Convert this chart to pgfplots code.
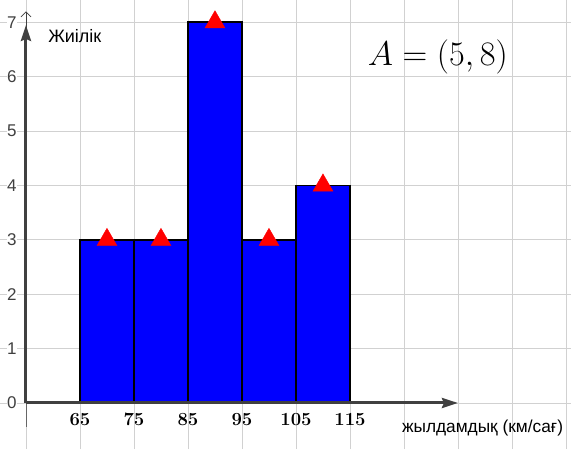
\documentclass[border=0pt]{standalone}
\usepackage{graphicx}
\usepackage{pgfplots}
\pgfplotsset{compat=1.18}
\usepackage{fontspec}
\setmainfont{Liberation Sans}
\newfontfamily\lmr{Latin Modern Roman}
\usetikzlibrary{arrows.meta}
\definecolor{barblue}{RGB}{0,0,255}
\definecolor{axgray}{RGB}{64,64,64}
\begin{document}
\begin{tikzpicture}
\begin{axis}[
  scale only axis, width=571pt, height=449pt,
  xmin=50.19, xmax=155.93, ymin=-0.846, ymax=7.408,
  axis line style={draw=none}, tick style={draw=none},
  xtick={55,65,...,155}, ytick={0,...,7},
  xticklabels={}, yticklabels={},
  grid=major, major grid style={draw=black!18, line width=0.9pt},
  clip=false,
]
% bars
\addplot[ybar interval, fill=barblue, draw=black, line width=1.6pt]
  coordinates {(65,3)(75,3)(85,7)(95,3)(105,4)(115,4)};
% axes
\draw[black!60, line width=0.9pt] (axis cs:55,0) -- (axis cs:55,-0.44);
\draw[axgray, line width=3pt, -{Stealth[length=16pt,width=10pt,inset=2pt]}]
  (axis cs:55,0) -- (axis cs:135,0);
\draw[axgray, line width=3pt, -{Stealth[length=16pt,width=10pt,inset=2pt]}]
  (axis cs:55,0) -- (axis cs:55,6.95);
\draw[axgray, line width=0.8pt, -{Straight Barb[length=5pt,width=10pt]}]
  (axis cs:55,6.8) -- (axis cs:55,7.2);
% triangle markers
\addplot[only marks, mark=triangle*, mark size=11.5pt, red,
  mark options={fill=red, draw=none}]
  coordinates {(70,3)(80,3)(90,7)(100,3)(110,4)};
% y tick labels
\pgfplotsinvokeforeach{0,1,2,3,4,5,6,7}{
  \node[fill=white, inner sep=0.5pt, text=axgray, font=\fontsize{17}{20}\selectfont]
    at (axis cs:52.4,#1) {#1};
}
% x tick labels
\pgfplotsinvokeforeach{65,75,85,95,105,115}{
  \node[anchor=base, inner sep=0pt, font=\lmr\bfseries\fontsize{18.5}{22}\selectfont]
    at (axis cs:#1,-0.41) {#1};
}
% texts
\node[anchor=base west, inner sep=0pt, font=\fontsize{18}{22}\selectfont]
  at (axis cs:59.1,6.62) {Жиілік};
\node[anchor=base west, inner sep=0pt, font=\fontsize{17.3}{20}\selectfont]
  at (axis cs:124.6,-0.55) {жылдамдық (км/сағ)};
\node[anchor=base west, inner sep=0pt, font=\fontsize{24.88}{30}\selectfont]
  at (axis cs:118.3,6.21) {\scalebox{1.38}{$A=(5,8)$}};
\end{axis}
\pgfresetboundingbox
\useasboundingbox (current axis.south west) rectangle (current axis.north east);
\end{tikzpicture}
\end{document}
